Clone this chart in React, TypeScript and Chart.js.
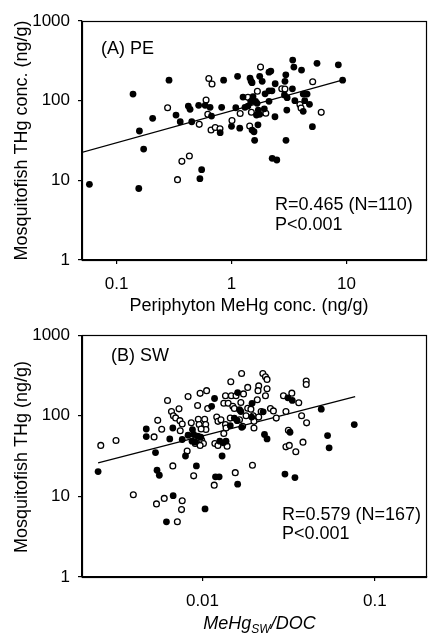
import React, { useEffect, useRef } from 'react';
import { Chart, registerables } from 'chart.js';

Chart.register(...registerables);

const FONT = '"Liberation Sans", Arial, Helvetica, sans-serif';

// ---------- Panel A: Periphyton MeHg (ng/g) vs Mosquitofish THg (ng/g) ----------
const peFilledX = [0.058, 0.139, 0.156, 0.172, 0.158, 0.206, 0.286, 0.329, 0.358, 0.421, 0.436, 0.451, 0.518, 0.55, 0.531, 0.59, 0.651, 0.67, 0.854, 1.13, 2.12, 2.2, 1.45, 1.48, 1.51, 1.76, 1.85, 2.4, 2.97, 2.92, 3.41, 3.49, 4.07, 5.55, 8.51, 9.27, 3.39, 2.12, 2.25, 1.96, 1.26, 1.54, 1.52, 1.62, 1.67, 1.47, 2.12, 2.89, 3.05, 3.56, 4.21, 4.55, 4.34, 4.77, 4.21, 3.03, 2.39, 1.93, 1.71, 1.65, 1.76, 1.39, 1.31, 1.09, 0.821, 0.797, 1.0, 1.18, 1.51, 1.57, 1.7, 1.59, 2.98, 5.06, 2.26, 2.48];
const peFilledY = [8.9, 121, 7.9, 24.7, 41.6, 60, 181, 65.9, 54.4, 85.5, 77.8, 54.4, 87.3, 13.6, 10.5, 87.3, 82.4, 64.1, 181, 202, 228, 235, 192, 176, 168, 202, 175, 163, 211, 175, 323, 264, 242, 294, 282, 181, 141, 133, 133, 122, 111, 112, 102, 98, 92.5, 96.9, 98, 118, 109, 100, 121, 121, 100, 89.9, 73.4, 76.2, 62.8, 79.1, 76.2, 65.9, 67.3, 85.5, 82.4, 81.5, 82.4, 39.6, 47.6, 45.1, 42.8, 40.7, 49.7, 31.8, 31.8, 47.1, 18.9, 18.0];
const peOpenX = [0.278, 0.339, 0.37, 0.43, 0.524, 0.601, 0.635, 0.677, 0.622, 0.664, 0.722, 1.79, 5.09, 2.74, 2.92, 1.39, 1.68, 3.94, 4.03, 6.04, 1.99, 1.49, 1.19, 1.44, 1.01, 0.794];
const peOpenY = [81.5, 10.2, 17.3, 20.2, 50.4, 102, 190, 162, 67.3, 42.8, 46, 264, 173, 141, 140, 110, 131, 89.4, 80.7, 71.3, 69.5, 71.5, 68.9, 48, 56.3, 44.4];
const peFitX = [0.049, 9.2];
const peFitY = [22.2, 181];

// ---------- Panel B: MeHg_SW/DOC vs Mosquitofish THg (ng/g) ----------
const swFilledX = [0.00472, 0.00472, 0.00646, 0.00673, 0.00534, 0.00825, 0.00875, 0.00763, 0.0087, 0.00908, 0.00797, 0.00922, 0.00248, 0.00545, 0.00562, 0.00676, 0.01035, 0.00618, 0.0119, 0.0125, 0.01175, 0.00978, 0.0113, 0.016, 0.0313, 0.0332, 0.0164, 0.0194, 0.0225, 0.0153, 0.0159, 0.0193, 0.0169, 0.0145, 0.0229, 0.0237, 0.0322, 0.00889, 0.0094, 0.0126, 0.0132, 0.0137, 0.013, 0.016, 0.0301, 0.0344, 0.0489, 0.076, 0.0532, 0.0543, 0.0167];
const swFilledY = [68.6, 55.3, 51.7, 70.6, 35, 57.4, 67.5, 50.8, 48.4, 47.1, 31.7, 23.9, 20.3, 21.1, 18.3, 10.2, 7.0, 4.84, 17.5, 17.5, 164, 54.2, 131, 194, 167, 155, 119, 143, 112, 93.7, 87.1, 96.4, 72, 75.5, 58.6, 51.7, 62.5, 58.6, 55.8, 48.4, 46.2, 48.4, 31.7, 14.2, 18.9, 17.1, 121, 77.8, 56.9, 40.1, 113];
const swOpenX = [0.00257, 0.00315, 0.00524, 0.0055, 0.0058, 0.00627, 0.00661, 0.00678, 0.00699, 0.00731, 0.0074, 0.00763, 0.00743, 0.00825, 0.00861, 0.00815, 0.00673, 0.00889, 0.00397, 0.00541, 0.006, 0.00763, 0.00756, 0.00715, 0.0117, 0.00969, 0.01057, 0.00937, 0.01072, 0.00946, 0.0103, 0.01044, 0.01047, 0.00957, 0.00982, 0.01687, 0.0224, 0.0232, 0.0237, 0.0146, 0.0136, 0.0147, 0.01566, 0.0173, 0.0183, 0.0212, 0.021, 0.0237, 0.0232, 0.0295, 0.033, 0.0362, 0.0133, 0.0141, 0.015, 0.0153, 0.0167, 0.0183, 0.0191, 0.0208, 0.0219, 0.0248, 0.0258, 0.0305, 0.0121, 0.0123, 0.0128, 0.0136, 0.0145, 0.0164, 0.0179, 0.0197, 0.0199, 0.0171, 0.0199, 0.0137, 0.0133, 0.0212, 0.0268, 0.0315, 0.00957, 0.0099, 0.01013, 0.00908, 0.00969, 0.0118, 0.0123, 0.0139, 0.0195, 0.0305, 0.0319, 0.0348, 0.0155, 0.04, 0.04, 0.0376, 0.0402, 0.0383];
const swOpenY = [42.9, 49.4, 54.7, 87.8, 68, 155, 113, 100, 94.2, 122, 87.1, 79.1, 65.2, 173, 81.8, 36.5, 23.9, 18, 10.5, 8.07, 9.45, 8.85, 6.86, 4.84, 13.8, 190, 205, 134, 123, 90.3, 90.3, 77.8, 67.5, 77.8, 68.6, 335, 335, 305, 283, 265, 177, 177, 177, 187, 225, 235, 205, 217, 177, 177, 191, 145, 143, 143, 131, 123, 146, 124, 121, 158, 113, 123, 115, 113, 96.4, 85.3, 89.5, 77.8, 93.7, 89.5, 100, 100, 85.3, 74.1, 70.6, 70.6, 60.2, 96.4, 93.7, 66.1, 53.2, 49.8, 45.4, 45.4, 42.9, 45.4, 42.9, 42, 24.3, 41.2, 42.9, 35.8, 19.7, 270, 245, 100, 81.8, 47.1];
const swFitX = [0.00248, 0.0769];
const swFitY = [26, 173];

// ---------- Axes ----------
const yTicks = [1, 10, 100, 1000];
const peXTicks = [0.1, 1, 10];
const swXTicks = [0.01, 0.1];

const pts = (xs: number[], ys: number[]) => xs.map((x, i) => ({ x, y: ys[i] }));

type TextItem = {
  parts: { t: string; size: number; italic?: boolean; dy?: number }[];
  x: number;
  y: number;
  align: 'left' | 'center';
  rot?: boolean;
};

const framePlugin = {
  id: 'frame',
  afterDraw(chart: any, _args: any, opts: any) {
    const { ctx, chartArea: a } = chart;
    ctx.save();
    ctx.strokeStyle = '#000';
    ctx.lineWidth = 1.2;
    const l = Math.round(a.left) + 0.5;
    const t = Math.round(a.top) + 0.5;
    const r = Math.round(a.right) - 0.5;
    const b = Math.round(a.bottom) + 0.5;
    ctx.strokeRect(l, t, r - l, b - t);
    ctx.fillStyle = '#000';
    ctx.textBaseline = 'alphabetic';
    ctx.textAlign = 'left';
    const items: TextItem[] = opts.texts || [];
    for (const it of items) {
      const fontOf = (p: any) => `${p.italic ? 'italic ' : ''}${p.size}px ${FONT}`;
      let total = 0;
      const widths = it.parts.map((p) => {
        ctx.font = fontOf(p);
        const w = ctx.measureText(p.t).width;
        total += w;
        return w;
      });
      ctx.save();
      ctx.translate(it.x, it.y);
      if (it.rot) ctx.rotate(-Math.PI / 2);
      let cx = it.align === 'center' ? -total / 2 : 0;
      it.parts.forEach((p, i) => {
        ctx.font = fontOf(p);
        ctx.fillText(p.t, cx, p.dy || 0);
        cx += widths[i];
      });
      ctx.restore();
    }
    ctx.restore();
  },
};

type Panel = {
  height: number;
  padTop: number;
  xH: number;
  xMin: number;
  xMax: number;
  xTicks: number[];
  filled: { x: number; y: number }[];
  open: { x: number; y: number }[];
  fit: { x: number; y: number }[];
  texts: TextItem[];
};

function buildConfig(p: Panel): any {
  const tickFont = { family: FONT, size: 17 };
  return {
    type: 'scatter',
    data: {
      datasets: [
        {
          data: p.filled,
          pointRadius: 3.4,
          pointBackgroundColor: '#000',
          pointBorderColor: '#000',
          pointBorderWidth: 0,
          order: 1,
        },
        {
          data: p.open,
          pointRadius: 2.9,
          pointBackgroundColor: '#fff',
          pointBorderColor: '#000',
          pointBorderWidth: 1.3,
          order: 2,
        },
        {
          data: p.fit,
          showLine: true,
          borderColor: '#000',
          borderWidth: 1.2,
          pointRadius: 0,
          fill: false,
          order: 3,
        },
      ],
    },
    options: {
      animation: false,
      responsive: false,
      maintainAspectRatio: false,
      events: [],
      layout: { padding: { left: 0, top: p.padTop, right: 1, bottom: 0 } },
      plugins: {
        legend: { display: false },
        tooltip: { enabled: false },
        frame: { texts: p.texts },
      },
      scales: {
        x: {
          type: 'logarithmic',
          position: 'bottom',
          min: p.xMin,
          max: p.xMax,
          afterFit: (s: any) => {
            s.height = p.xH;
          },
          afterBuildTicks: (s: any) => {
            s.ticks = p.xTicks.map((v) => ({ value: v }));
          },
          ticks: {
            callback: (v: any) => String(v),
            font: tickFont,
            color: '#000',
            padding: 10,
            autoSkip: false,
            maxRotation: 0,
          },
          grid: { drawOnChartArea: false, drawTicks: true, tickLength: 4, color: '#000', lineWidth: 1.2 },
          border: { display: true, color: '#000', width: 1.2 },
        },
        y: {
          type: 'logarithmic',
          position: 'left',
          min: 1,
          max: 1000,
          afterFit: (s: any) => {
            s.width = 82;
          },
          afterBuildTicks: (s: any) => {
            s.ticks = yTicks.map((v) => ({ value: v }));
          },
          ticks: {
            callback: (v: any) => String(v),
            font: tickFont,
            color: '#000',
            padding: 8,
            autoSkip: false,
          },
          grid: { drawOnChartArea: false, drawTicks: true, tickLength: 4, color: '#000', lineWidth: 1.2 },
          border: { display: true, color: '#000', width: 1.2 },
        },
      },
    },
    plugins: [framePlugin],
  };
}

const panelA: Panel = {
  height: 317,
  padTop: 21,
  xH: 57,
  xMin: 0.05,
  xMax: 50,
  xTicks: peXTicks,
  filled: pts(peFilledX, peFilledY),
  open: pts(peOpenX, peOpenY),
  fit: pts(peFitX, peFitY),
  texts: [
    { parts: [{ t: '(A) PE', size: 18 }], x: 101, y: 54, align: 'left' },
    { parts: [{ t: 'R=0.465 (N=110)', size: 18 }], x: 275, y: 210, align: 'left' },
    { parts: [{ t: 'P<0.001', size: 18 }], x: 275, y: 229.5, align: 'left' },
    { parts: [{ t: 'Periphyton MeHg conc. (ng/g)', size: 18 }], x: 249, y: 311, align: 'center' },
    { parts: [{ t: 'Mosquitofish THg conc. (ng/g)', size: 18 }], x: 27, y: 140.5, align: 'center', rot: true },
  ],
};

const panelB: Panel = {
  height: 318,
  padTop: 16,
  xH: 58,
  xMin: 0.002,
  xMax: 0.2,
  xTicks: swXTicks,
  filled: pts(swFilledX, swFilledY),
  open: pts(swOpenX, swOpenY),
  fit: pts(swFitX, swFitY),
  texts: [
    { parts: [{ t: '(B) SW', size: 18 }], x: 111, y: 361 - 317, align: 'left' },
    { parts: [{ t: 'R=0.579 (N=167)', size: 18 }], x: 282, y: 519.5 - 317, align: 'left' },
    { parts: [{ t: 'P<0.001', size: 18 }], x: 282, y: 539 - 317, align: 'left' },
    {
      parts: [
        { t: 'MeHg', size: 18, italic: true },
        { t: 'SW', size: 12, italic: true, dy: 4 },
        { t: '/DOC', size: 18, italic: true },
      ],
      x: 259.5,
      y: 629 - 317,
      align: 'center',
    },
    { parts: [{ t: 'Mosquitofish THg (ng/g)', size: 18 }], x: 27, y: 457 - 317, align: 'center', rot: true },
  ],
};

function PanelChart({ panel }: { panel: Panel }) {
  const ref = useRef<HTMLCanvasElement | null>(null);
  useEffect(() => {
    if (!ref.current) return;
    const chart = new Chart(ref.current, buildConfig(panel));
    return () => chart.destroy();
  }, [panel]);
  return (
    <canvas
      ref={ref}
      width={432}
      height={panel.height}
      style={{ display: 'block', width: 432, height: panel.height }}
    />
  );
}

export default function App() {
  return (
    <div style={{ position: 'absolute', left: 0, top: 0, width: 432, height: 635, background: '#fff' }}>
      <PanelChart panel={panelA} />
      <PanelChart panel={panelB} />
    </div>
  );
}
